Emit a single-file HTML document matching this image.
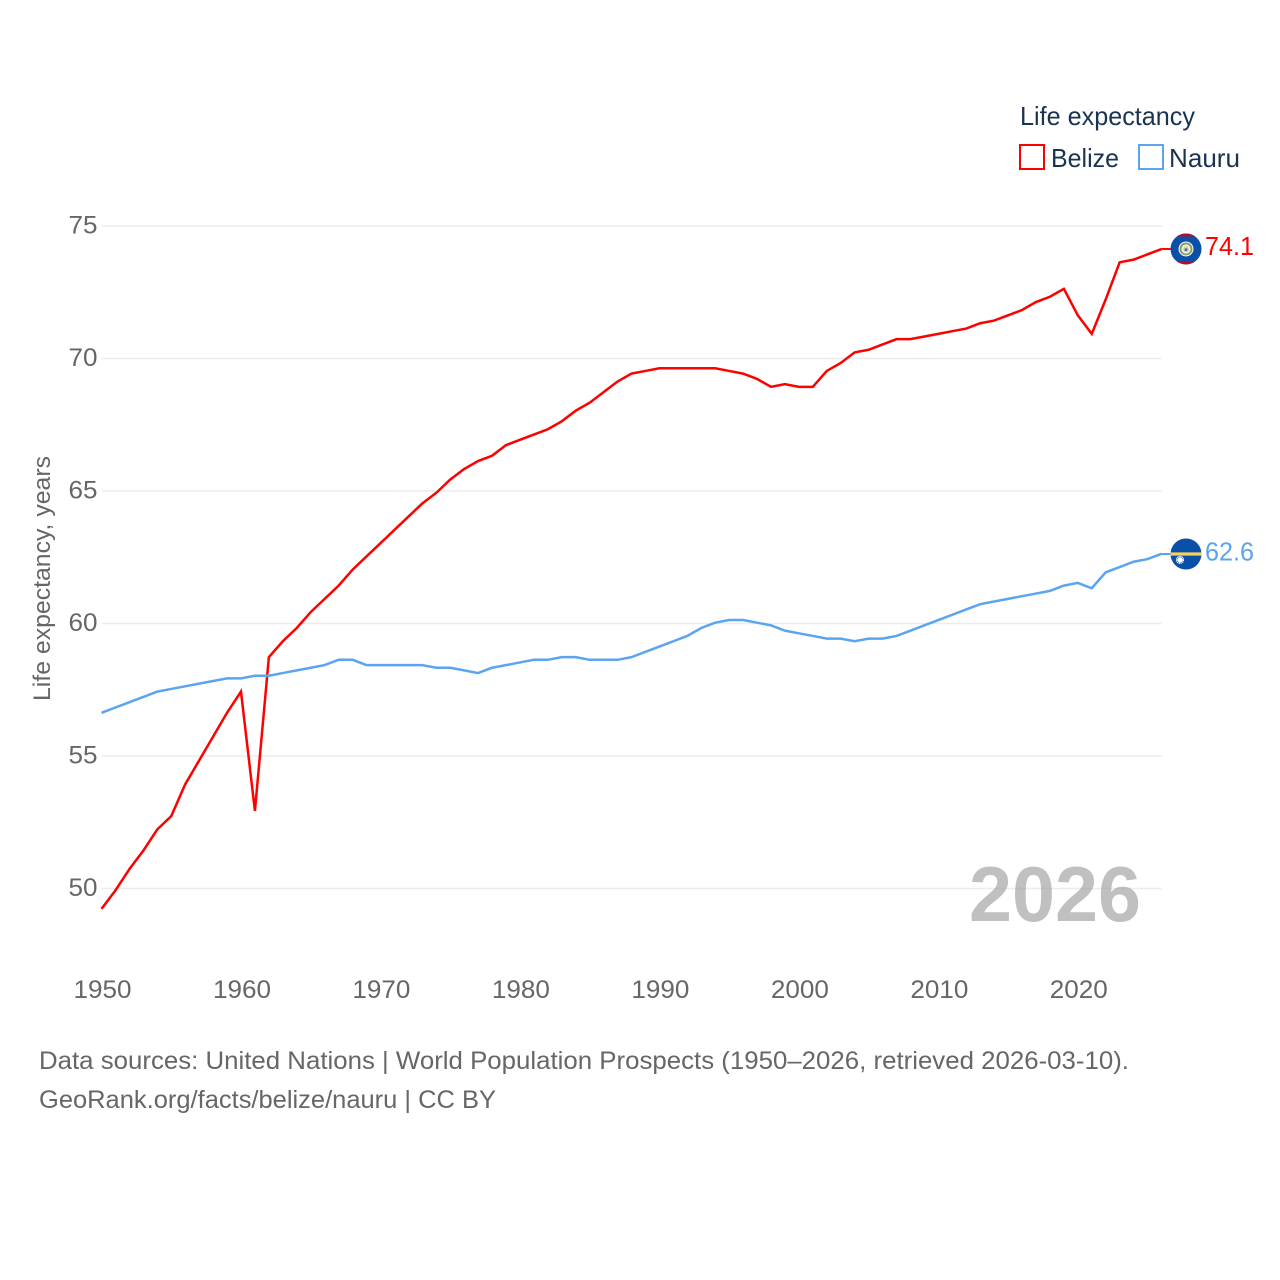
<!DOCTYPE html>
<html lang="en">
<head>
<meta charset="utf-8">
<title>Life expectancy: Belize and Nauru</title>
<style>
html,body{margin:0;padding:0;background:#fff;}
svg{display:block;}
text{font-family:"Liberation Sans",sans-serif;}
</style>
</head>
<body>
<svg id="chart" width="1280" height="1280" viewBox="0 0 1280 1280" xmlns="http://www.w3.org/2000/svg">
  <defs>
    <clipPath id="flag-clip-belize"><circle cx="0" cy="0" r="15.5"/></clipPath>
    <clipPath id="flag-clip-nauru"><circle cx="0" cy="0" r="15.5"/></clipPath>
  </defs>
  <rect x="0" y="0" width="1280" height="1280" fill="#fff"/>
  <g id="grid"></g>
  <g id="yticks"></g>
  <g id="xticks"></g>
  <text transform="translate(50,701) rotate(-90)" font-size="24" fill="#666" textLength="245" lengthAdjust="spacingAndGlyphs">Life expectancy, years</text>
  <text x="969" y="921" font-size="78" font-weight="bold" fill="#999" fill-opacity="0.62" textLength="172" lengthAdjust="spacingAndGlyphs">2026</text>
  <g id="series" transform="translate(0,-0.8)"></g>
  <g id="ends"></g>

  <g>
    <text x="1020" y="125" font-size="26" fill="#1a3353" textLength="175" lengthAdjust="spacingAndGlyphs">Life expectancy</text>
    <g>
      <rect x="1020" y="145" width="24" height="24" fill="none" stroke="#ff0000" stroke-width="2"/>
      <text x="1051" y="167" font-size="26" fill="#1a3353" textLength="68" lengthAdjust="spacingAndGlyphs">Belize</text>
    </g>
    <g>
      <rect x="1139" y="145" width="24" height="24" fill="none" stroke="#5ba4ef" stroke-width="2"/>
      <text x="1169" y="167" font-size="26" fill="#1a3353" textLength="71" lengthAdjust="spacingAndGlyphs">Nauru</text>
    </g>
  </g>

  <text x="39" y="1069" font-size="25" fill="#666" textLength="1090" lengthAdjust="spacingAndGlyphs">Data sources: United Nations | World Population Prospects (1950–2026, retrieved 2026-03-10).</text>
  <text x="39" y="1108" font-size="25" fill="#666" textLength="457" lengthAdjust="spacingAndGlyphs">GeoRank.org/facts/belize/nauru | CC BY</text>
</svg>
<script>
const years = [1950,1951,1952,1953,1954,1955,1956,1957,1958,1959,1960,1961,1962,1963,1964,1965,1966,1967,1968,1969,1970,1971,1972,1973,1974,1975,1976,1977,1978,1979,1980,1981,1982,1983,1984,1985,1986,1987,1988,1989,1990,1991,1992,1993,1994,1995,1996,1997,1998,1999,2000,2001,2002,2003,2004,2005,2006,2007,2008,2009,2010,2011,2012,2013,2014,2015,2016,2017,2018,2019,2020,2021,2022,2023,2024,2025,2026];
const belize = [49.2,49.9,50.7,51.4,52.2,52.7,53.9,54.8,55.7,56.6,57.4,52.9,58.7,59.3,59.8,60.4,60.9,61.4,62.0,62.5,63.0,63.5,64.0,64.5,64.9,65.4,65.8,66.1,66.3,66.7,66.9,67.1,67.3,67.6,68.0,68.3,68.7,69.1,69.4,69.5,69.6,69.6,69.6,69.6,69.6,69.5,69.4,69.2,68.9,69.0,68.9,68.9,69.5,69.8,70.2,70.3,70.5,70.7,70.7,70.8,70.9,71.0,71.1,71.3,71.4,71.6,71.8,72.1,72.3,72.6,71.6,70.9,72.2,73.6,73.7,73.9,74.1];
const nauru = [56.6,56.8,57.0,57.2,57.4,57.5,57.6,57.7,57.8,57.9,57.9,58.0,58.0,58.1,58.2,58.3,58.4,58.6,58.6,58.4,58.4,58.4,58.4,58.4,58.3,58.3,58.2,58.1,58.3,58.4,58.5,58.6,58.6,58.7,58.7,58.6,58.6,58.6,58.7,58.9,59.1,59.3,59.5,59.8,60.0,60.1,60.1,60.0,59.9,59.7,59.6,59.5,59.4,59.4,59.3,59.4,59.4,59.5,59.7,59.9,60.1,60.3,60.5,60.7,60.8,60.9,61.0,61.1,61.2,61.4,61.5,61.3,61.9,62.1,62.3,62.4,62.6];
const yTickValues = [50,55,60,65,70,75];
const xTickValues = [1950,1960,1970,1980,1990,2000,2010,2020];

const NS = 'http://www.w3.org/2000/svg';
const BELIZE_COLOR = '#ff0000';
const NAURU_COLOR = '#5ba4ef';

function xScale(year){ return 101.5 + (year - 1950) * (1060 / 76); }
function yScale(v){ return 888.5 - (v - 50) * 26.5; }

function make(tag, attrs, parent, text){
  const el = document.createElementNS(NS, tag);
  for (const k in attrs) el.setAttribute(k, attrs[k]);
  if (text !== undefined) el.textContent = text;
  parent.appendChild(el);
  return el;
}

const gridG = document.getElementById('grid');
const yG = document.getElementById('yticks');
const xG = document.getElementById('xticks');
const seriesG = document.getElementById('series');
const endsG = document.getElementById('ends');

yTickValues.forEach(function(v){
  const line = make('line', {x1:101.5, x2:1161.5, y1:yScale(v), y2:yScale(v), stroke:'#ececec', 'stroke-width':1.5}, gridG);
  
  
  const label = make('text', {x:97.5, y:yScale(v) + 7.5, 'text-anchor':'end', 'font-size':25, fill:'#666', textLength:29, lengthAdjust:'spacingAndGlyphs'}, yG, String(v));
  
  
});

xTickValues.forEach(function(y){
  const label = make('text', {x:xScale(y) + 1, y:998, 'text-anchor':'middle', 'font-size':25, fill:'#666', textLength:58, lengthAdjust:'spacingAndGlyphs'}, xG, String(y));
  
  
});

function buildPath(values){
  const pts = values.map(function(v, i){ return xScale(years[i]).toFixed(2) + ',' + yScale(v).toFixed(2); });
  return 'M' + pts.join('L');
}

const belizeLine = make('path', {d:buildPath(belize), fill:'none', stroke:BELIZE_COLOR, 'stroke-width':2.5, 'stroke-linejoin':'miter'}, seriesG);


const nauruLine = make('path', {d:buildPath(nauru), fill:'none', stroke:NAURU_COLOR, 'stroke-width':2.5, 'stroke-linejoin':'miter'}, seriesG);



const xLast = xScale(years[years.length - 1]);
const yB = yScale(belize[belize.length - 1]) - 0.9;
const yN = yScale(nauru[nauru.length - 1]) - 0.6;

const belizeStub = make('line', {x1:xLast, x2:1172, y1:yB, y2:yB, stroke:BELIZE_COLOR, 'stroke-width':2}, endsG);


const nauruStub = make('line', {x1:xLast, x2:1172, y1:yN, y2:yN, stroke:NAURU_COLOR, 'stroke-width':2}, endsG);



const flagB = make('g', {transform:'translate(1186,' + yB + ')'}, endsG);


const flagBInner = make('g', {'clip-path':'url(#flag-clip-belize)'}, flagB);
make('rect', {x:-16, y:-16, width:32, height:32, fill:'#0a4fa8'}, flagBInner);
make('rect', {x:-16, y:-16, width:32, height:3.5, fill:'#b01030'}, flagBInner);
make('rect', {x:-16, y:12.5, width:32, height:3.5, fill:'#b01030'}, flagBInner);
make('circle', {cx:0, cy:0, r:7.5, fill:'#f2f2ea'}, flagB);
make('circle', {cx:0, cy:0, r:5.5, fill:'none', stroke:'#7f9f66', 'stroke-width':1.8}, flagB);
make('circle', {cx:0, cy:0, r:3, fill:'#d9d2a8'}, flagB);
make('circle', {cx:0, cy:0.8, r:1.5, fill:'#3d6fa8'}, flagB);

const flagN = make('g', {transform:'translate(1186,' + yN + ')'}, endsG);


const flagNInner = make('g', {'clip-path':'url(#flag-clip-nauru)'}, flagN);
make('rect', {x:-16, y:-16, width:32, height:32, fill:'#0a4fa8'}, flagNInner);
make('rect', {x:-16, y:-1.6, width:32, height:3.2, fill:'#f7d35a'}, flagNInner);
make('circle', {cx:-6, cy:5.8, r:2.6, fill:'#fff'}, flagNInner);
make('circle', {cx:-6, cy:5.8, r:3.4, fill:'none', stroke:'#fff', 'stroke-width':1.4, 'stroke-dasharray':'1.2 0.6'}, flagNInner);

const labelB = make('text', {x:1205, y:yB + 6, 'font-size':26, fill:BELIZE_COLOR, textLength:49, lengthAdjust:'spacingAndGlyphs'}, endsG, belize[belize.length - 1].toFixed(1));


const labelN = make('text', {x:1205, y:yN + 6.5, 'font-size':26, fill:NAURU_COLOR, textLength:49, lengthAdjust:'spacingAndGlyphs'}, endsG, nauru[nauru.length - 1].toFixed(1));


</script>
</body>
</html>
